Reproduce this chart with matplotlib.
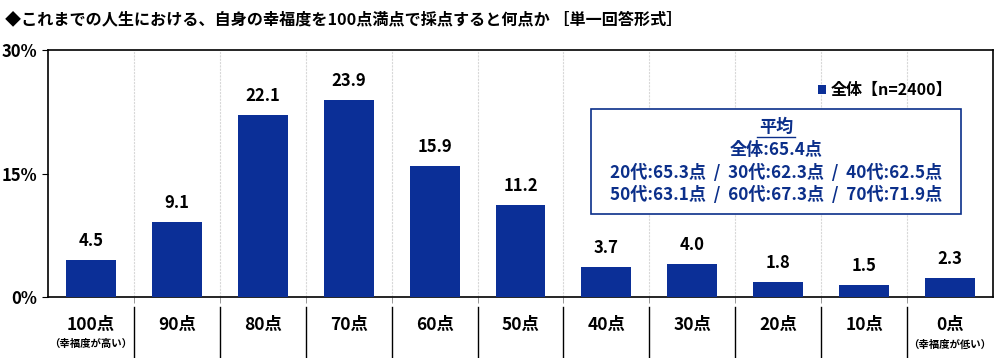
import matplotlib
matplotlib.use("Agg")
import matplotlib.pyplot as plt
import numpy as np

plt.rcParams['font.family'] = ['Noto Sans CJK JP', 'DejaVu Sans']

categories = ["100点", "90点", "80点", "70点", "60点", "50点", "40点", "30点", "20点", "10点", "0点"]
sublabels = ["（幸福度が高い）", "", "", "", "", "", "", "", "", "", "（幸福度が低い）"]
values = [4.5, 9.1, 22.1, 23.9, 15.9, 11.2, 3.7, 4.0, 1.8, 1.5, 2.3]
yticks = [0, 15, 30]
ytick_labels = ["0%", "15%", "30%"]
title = "◆これまでの人生における、自身の幸福度を100点満点で採点すると何点か ［単一回答形式］"
legend_label = "全体【n=2400】"
avg_lines = ["平均", "全体:65.4点", "20代:65.3点  /  30代:62.3点  /  40代:62.5点",
             "50代:63.1点  /  60代:67.3点  /  70代:71.9点"]

bar_color = "#0b2f97"
navy = "#0b2f8a"

fig = plt.figure(figsize=(10, 3.58), dpi=100)
ax = fig.add_axes([0.048, 0.170, 0.945, 0.690])

x = np.arange(len(categories))
ax.bar(x, values, width=0.58, color=bar_color, zorder=3, label=legend_label)
for xi, v in zip(x, values):
    ax.text(xi, v + 1.2, f"{v:.1f}", ha="center", va="bottom", fontsize=12,
            fontweight="bold", color="black")

ax.set_xlim(-0.5, len(categories) - 0.5)
ax.set_ylim(0, 30)
ax.set_yticks(yticks)
ax.set_yticklabels(ytick_labels, fontsize=12, fontweight="bold")
ax.tick_params(axis="y", length=4, width=0.8, pad=4)

bounds = np.arange(0.5, len(categories) - 0.5, 1.0)
ax.set_xticks(bounds)
ax.set_xticklabels([])
ax.tick_params(axis="x", length=4, width=0.6, color="#888888")
for b in bounds:
    ax.axvline(b, color="#d8d8d8", lw=0.8, ls=(0, (2, 1)), zorder=1)

for s in ax.spines.values():
    s.set_linewidth(1.2)
    s.set_color("black")

tr = ax.get_xaxis_transform()
for xi, (c, sl) in enumerate(zip(categories, sublabels)):
    ax.text(xi, -0.075, c, transform=tr, ha="center", va="top", fontsize=12.5,
            fontweight="bold")
    if sl:
        ax.text(xi, -0.17, sl, transform=tr, ha="center", va="top", fontsize=7.5,
                fontweight="bold")
for b in bounds:
    ax.plot([b, b], [-0.04, -0.26], transform=tr, color="black", lw=1.0,
            clip_on=False)

fig.text(0.005, 0.945, title, ha="left", va="center", fontsize=11.6,
         fontweight="bold")

leg = ax.legend(loc="upper left", bbox_to_anchor=(0.8, 0.93), frameon=False,
                handlelength=0.5, handleheight=0.5, handletextpad=0.25,
                prop={"size": 11.5, "weight": "bold"})

# average box
bx0, by0, bx1, by1 = 0.591, 1 - 214 / 358, 0.961, 1 - 109 / 358
rect = plt.Rectangle((bx0, by0), bx1 - bx0, by1 - by0, transform=fig.transFigure,
                     fill=True, facecolor="white", edgecolor=navy, lw=1.2, zorder=5)
fig.add_artist(rect)
cx = (bx0 + bx1) / 2
ys = [1 - 127 / 358, 1 - 150 / 358, 1 - 173 / 358, 1 - 195 / 358]
for i, (t, yy) in enumerate(zip(avg_lines, ys)):
    txt = fig.text(cx, yy, t, ha="center", va="center", fontsize=12.3,
                   fontweight="bold", color=navy, zorder=6)
# underline for 平均
uy = 1 - 137 / 358
fig.add_artist(plt.Line2D([cx - 0.019, cx + 0.019], [uy, uy],
                          transform=fig.transFigure, color=navy, lw=1.0, zorder=6))

fig.savefig("out.png", dpi=100)
